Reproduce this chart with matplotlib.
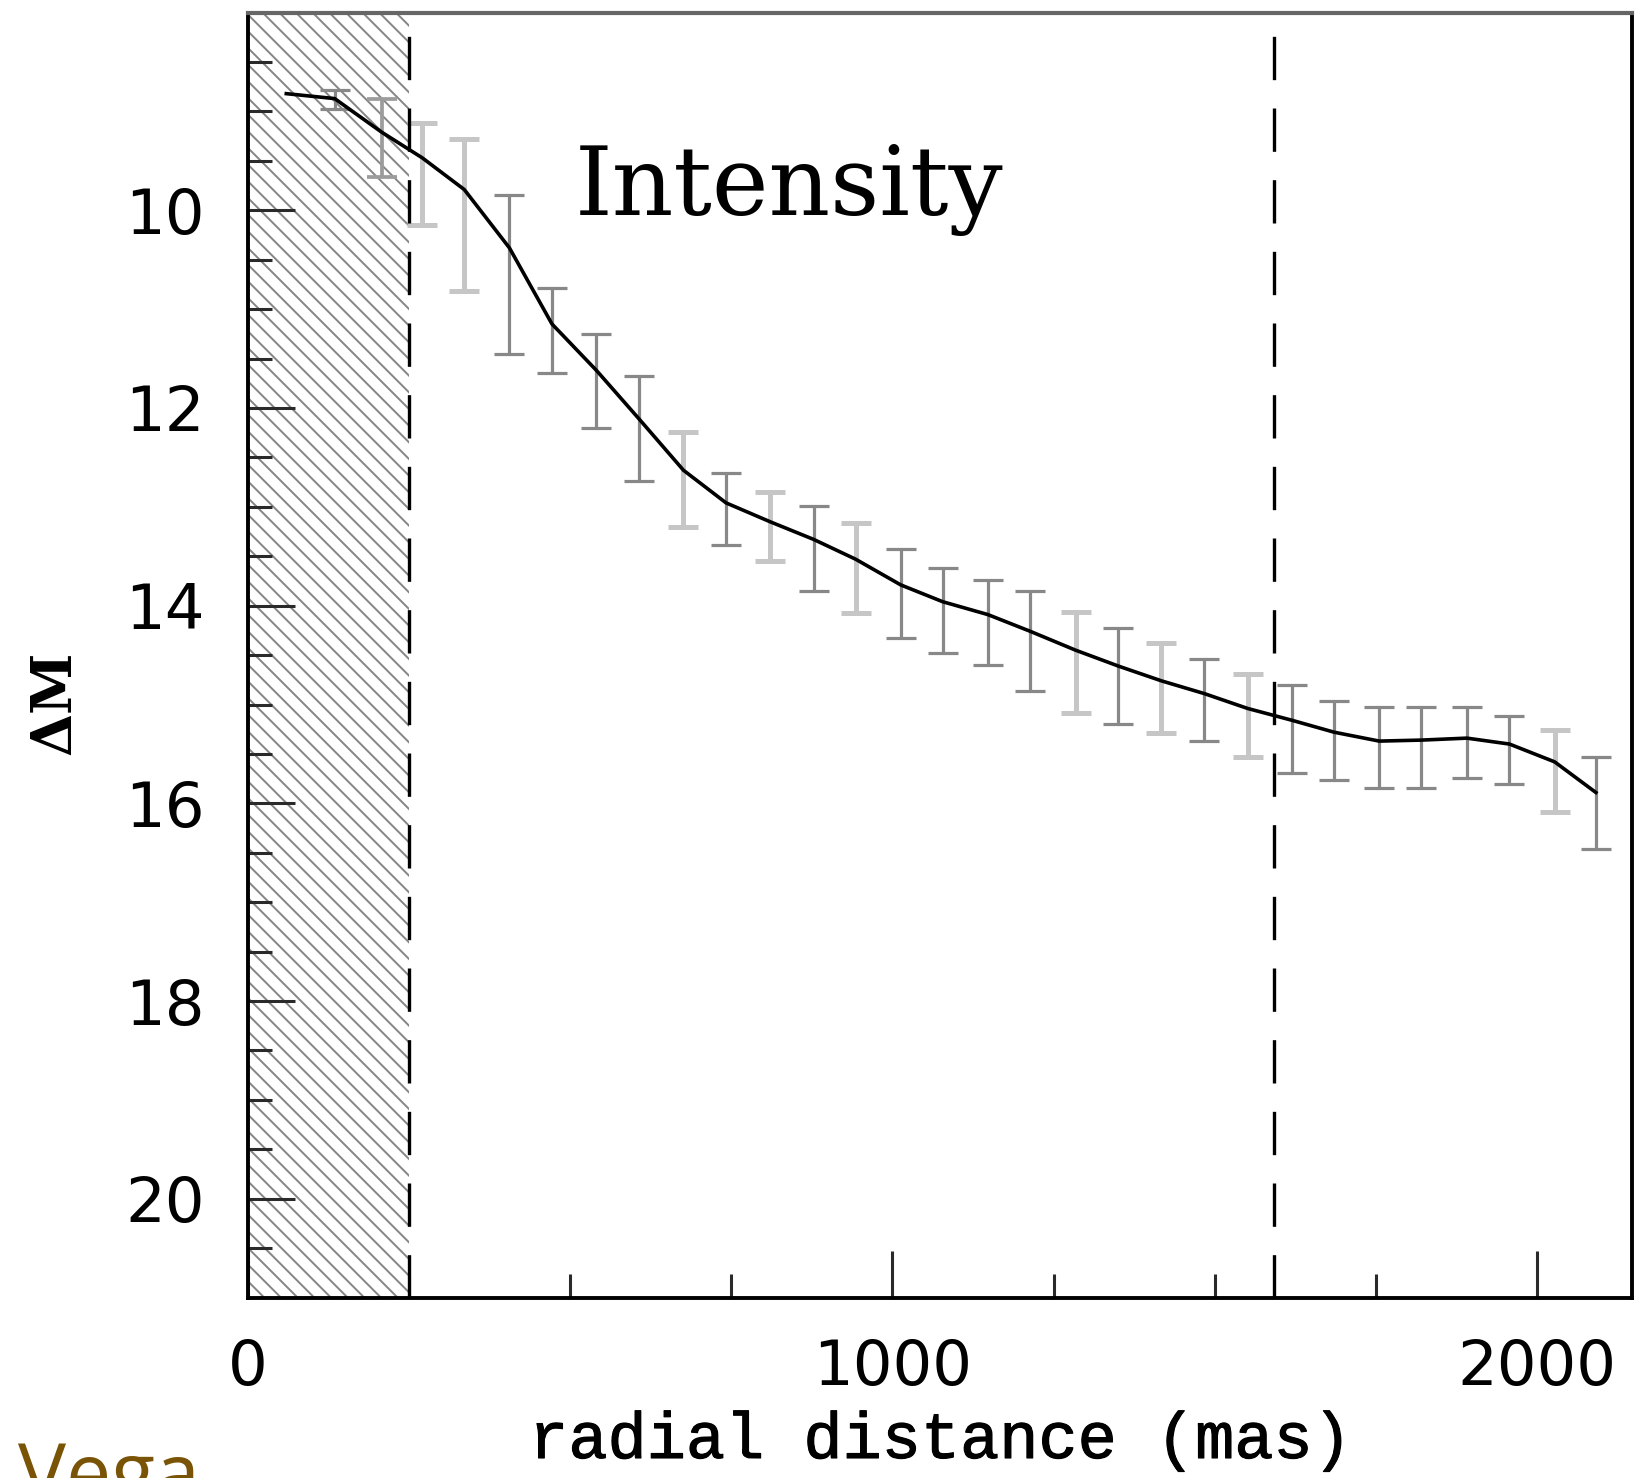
import matplotlib
matplotlib.use("Agg")
import matplotlib.pyplot as plt
import matplotlib.patheffects as pe
import numpy as np

# ---- data ----
line_x = [60, 135, 208, 271, 336, 406, 472, 541, 607, 676, 742, 810, 878, 943, 1013,
          1078, 1148, 1214, 1284, 1350, 1417, 1484, 1551, 1620, 1685, 1755, 1820, 1891,
          1957, 2027, 2091]
line_y = [8.82, 8.87, 9.21, 9.47, 9.79, 10.38, 11.15, 11.62, 12.11, 12.63, 12.96, 13.15,
          13.33, 13.53, 13.79, 13.96, 14.09, 14.26, 14.45, 14.61, 14.76, 14.89, 15.04,
          15.16, 15.28, 15.37, 15.36, 15.34, 15.40, 15.58, 15.89]

err_x = [135, 208, 271, 336, 406, 472, 541, 607, 676, 742, 810, 878, 943, 1013, 1078,
         1148, 1214, 1284, 1350, 1417, 1484, 1551, 1620, 1685, 1755, 1820, 1891, 1957,
         2027, 2091]
err_top = [8.78, 8.87, 9.12, 9.28, 9.85, 10.79, 11.25, 11.68, 12.24, 12.66, 12.85, 12.99,
           13.16, 13.43, 13.62, 13.74, 13.85, 14.06, 14.23, 14.38, 14.54, 14.69, 14.80,
           14.96, 15.03, 15.03, 15.03, 15.12, 15.26, 15.53]
err_bot = [8.98, 9.66, 10.15, 10.82, 11.45, 11.65, 12.20, 12.74, 13.20, 13.39, 13.55, 13.85,
           14.07, 14.33, 14.48, 14.60, 14.86, 15.09, 15.20, 15.29, 15.37, 15.53, 15.69,
           15.76, 15.84, 15.84, 15.74, 15.80, 16.09, 16.46]
err_shade = ['d', 'm', 'l', 'l', 'd', 'd', 'd', 'd', 'l', 'd', 'l', 'd', 'l', 'd', 'd',
             'd', 'd', 'l', 'd', 'l', 'd', 'l', 'd', 'd', 'd', 'd', 'd', 'd', 'l', 'd']

masked_limit = 250      # hatched inner region (mas)
outer_limit = 1592      # second dashed line (mas)

x_major = [0, 1000, 2000]
x_minor = [250, 500, 750, 1250, 1500, 1750]
y_major = [10, 12, 14, 16, 18, 20]
y_minor = [8.5, 9, 9.5, 10.5, 11, 11.5, 12.5, 13, 13.5, 14.5, 15, 15.5, 16.5, 17, 17.5,
           18.5, 19, 19.5, 20.5]

# ---- figure ----
W, H, DPI = 1645, 1478, 100
fig = plt.figure(figsize=(W / DPI, H / DPI), dpi=DPI)
fig.patch.set_facecolor("white")
ax = fig.add_axes([247.6 / W, 1 - 1297.6 / H, (1632 - 247.6) / W, (1297.6 - 12.6) / H])

plt.rcParams['hatch.linewidth'] = 1.4
ax.axvspan(0, masked_limit, facecolor="white", edgecolor="#858585", hatch="\\\\", lw=0, zorder=0)

dash = (0, (13.0, 8.5))
ax.axvline(masked_limit, color="black", lw=2.4, ls=dash, zorder=3)
ax.axvline(outer_limit, color="black", lw=2.4, ls=dash, zorder=3)

shade_style = {'d': ("#888888", 2.3), 'm': ("#9c9c9c", 2.7), 'l': ("#c6c6c6", 3.6)}
ex = np.array(err_x, dtype=float)
et = np.array(err_top)
eb = np.array(err_bot)
sh = np.array(err_shade)
for key, (col, lw) in shade_style.items():
    m = sh == key
    if not m.any():
        continue
    c = (et[m] + eb[m]) / 2
    e = (eb[m] - et[m]) / 2
    ax.errorbar(ex[m], c, yerr=e, fmt="none", ecolor=col, elinewidth=lw,
                capsize=11, capthick=lw, zorder=2)

ax.plot(line_x, line_y, color="black", lw=2.6, zorder=4)

ax.set_xlim(0, 2147)
ax.set_ylim(21, 8)

ax.set_xticks(x_major)
ax.set_xticks(x_minor, minor=True)
ax.set_yticks(y_major)
ax.set_yticks(y_minor, minor=True)
ax.set_xticklabels([str(v) for v in x_major])
ax.set_yticklabels([str(v) for v in y_major])

ax.tick_params(which="major", direction="in", length=34, width=2.2, color="#2a2a2a",
               labelsize=45, pad=29)
ax.tick_params(which="minor", direction="in", length=17, width=2.2, color="#2a2a2a")
ax.tick_params(axis="y", which="both", pad=31)
for lab in ax.get_xticklabels() + ax.get_yticklabels():
    lab.set_fontfamily("DejaVu Sans")

for s in ["left", "bottom", "right"]:
    ax.spines[s].set_linewidth(2.8)
    ax.spines[s].set_color("black")
ax.spines["top"].set_linewidth(3.0)
ax.spines["top"].set_color("#666666")

ax.text(0.2365, 0.8425, "Intensity", transform=ax.transAxes, fontsize=69,
        family="DejaVu Serif", va="baseline", ha="left")

fig.text(940 / W, 1 - 1458 / H, "radial distance (mas)", fontsize=47,
         family="Liberation Mono", ha="center", va="baseline",
         path_effects=[pe.withStroke(linewidth=0.8, foreground="black")])
fig.text(55 / W, 1 - 703 / H, "ΔM", fontsize=40, family="DejaVu Serif",
         fontweight="bold", rotation=90, ha="center", va="center")
fig.text(18 / W, 1 - 1440 / H, "Vega", fontsize=58, family="Open Sans",
         color="#7a5406", ha="left", va="top")

fig.savefig("out.png", dpi=DPI)
